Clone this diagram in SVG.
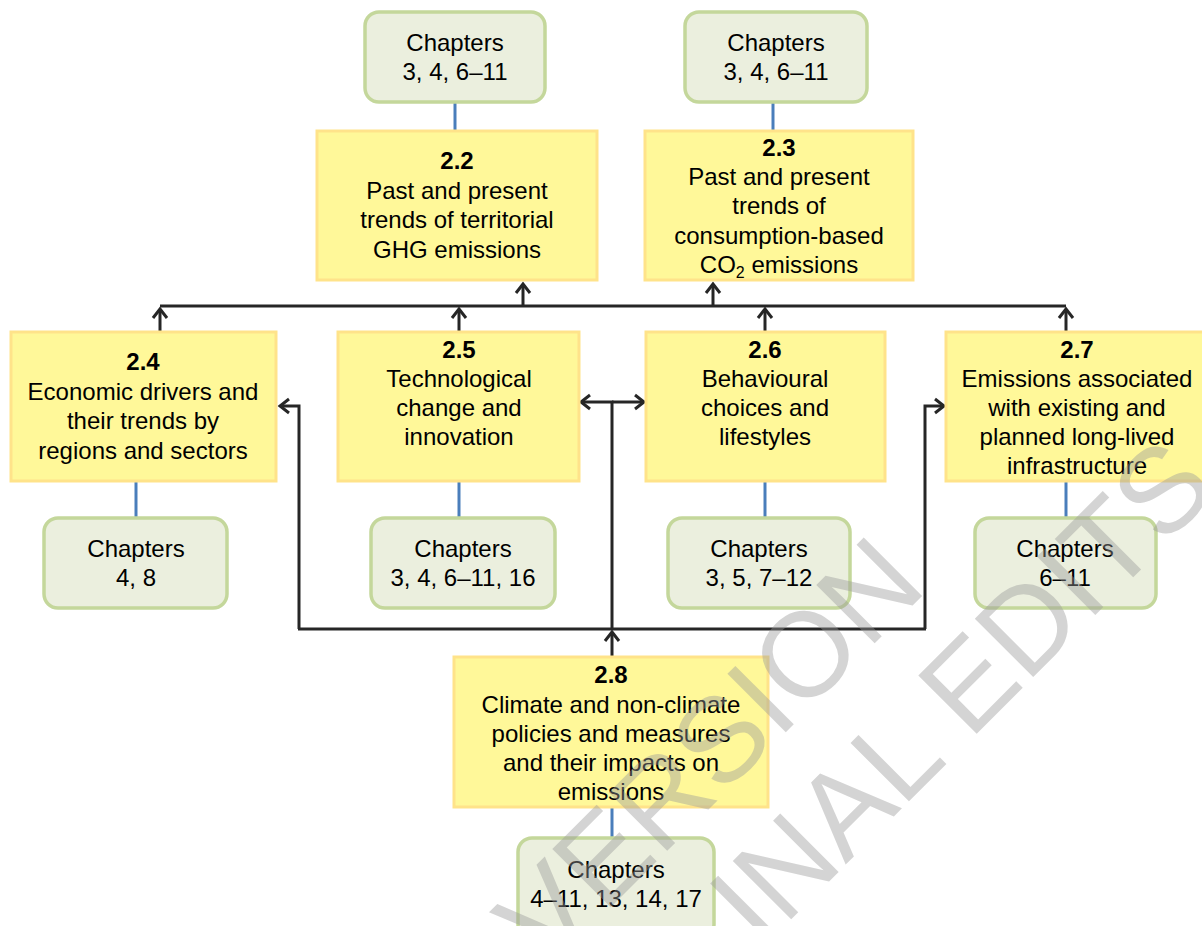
<svg xmlns="http://www.w3.org/2000/svg" width="1202" height="926" viewBox="0 0 1202 926">
<defs>
<style>
.y{fill:#FFF899;stroke:#FFE38A;stroke-width:3}
.g{fill:#EBEFDE;stroke:#C4D79B;stroke-width:3.5}
.t{font-family:"Liberation Sans",Arial,sans-serif;font-size:24px;fill:#000;text-anchor:middle}
.b{font-weight:bold}
.blue{stroke:#4A7EBB;stroke-width:3;fill:none}
.k{stroke:#262626;stroke-width:3;fill:none}
.wm{font-family:"Liberation Sans",Arial,sans-serif;font-size:120px;fill:#9a9a9a;opacity:0.42}
</style>
<marker id="ah" markerUnits="userSpaceOnUse" markerWidth="20" markerHeight="20" refX="0" refY="0" orient="auto" overflow="visible">
<path d="M-9,-7 L0,0 L-9,7" fill="none" stroke="#262626" stroke-width="3"/>
</marker>
</defs>
<rect width="1202" height="926" fill="#fff"/>

<g id="connectors">
<g class="blue">
<path d="M455,102 V131"/>
<path d="M773,102 V131"/>
<path d="M136,481 V518"/>
<path d="M459,481 V518"/>
<path d="M765,481 V518"/>
<path d="M1066,481 V518"/>
<path d="M612,807 V838"/>
</g>
<g class="k">
<path d="M160,306 H1066"/>
<path d="M523,306 V284" marker-end="url(#ah)"/>
<path d="M713,306 V284" marker-end="url(#ah)"/>
<path d="M160,332 V309" marker-end="url(#ah)"/>
<path d="M459,332 V309" marker-end="url(#ah)"/>
<path d="M765,332 V309" marker-end="url(#ah)"/>
<path d="M1066,332 V309" marker-end="url(#ah)"/>
<path d="M298,629 H926"/>
<path d="M299,629 V406 H280" marker-end="url(#ah)"/>
<path d="M612,629 V402 H581" marker-end="url(#ah)"/>
<path d="M612,402 H644" marker-end="url(#ah)"/>
<path d="M925,629 V406 H944" marker-end="url(#ah)"/>
<path d="M612,657 V632" marker-end="url(#ah)"/>
</g>
</g>

<g id="ch-22">
<rect class="g" x="365" y="12" width="180" height="90" rx="14"/>
<text class="t" x="455" y="51">Chapters</text>
<text class="t" x="455" y="80">3, 4, 6–11</text>
</g>
<g id="ch-23">
<rect class="g" x="685" y="12" width="182" height="90" rx="14"/>
<text class="t" x="776" y="51">Chapters</text>
<text class="t" x="776" y="80">3, 4, 6–11</text>
</g>

<g id="s22">
<rect class="y" x="317" y="131" width="280" height="149"/>
<text class="t b" x="457" y="169">2.2</text>
<text class="t" x="457" y="199">Past and present</text>
<text class="t" x="457" y="228">trends of territorial</text>
<text class="t" x="457" y="258">GHG emissions</text>
</g>
<g id="s23">
<rect class="y" x="645" y="131" width="268" height="149"/>
<text class="t b" x="779" y="156">2.3</text>
<text class="t" x="779" y="185">Past and present</text>
<text class="t" x="779" y="214">trends of</text>
<text class="t" x="779" y="244">consumption-based</text>
<text class="t" x="779" y="273">CO<tspan font-size="16" dy="5">2</tspan><tspan dy="-5"> emissions</tspan></text>
</g>

<g id="s24">
<rect class="y" x="11" y="332" width="265" height="149"/>
<text class="t b" x="143" y="370">2.4</text>
<text class="t" x="143" y="400">Economic drivers and</text>
<text class="t" x="143" y="429">their trends by</text>
<text class="t" x="143" y="459">regions and sectors</text>
</g>
<g id="s25">
<rect class="y" x="338" y="332" width="241" height="149"/>
<text class="t b" x="459" y="358">2.5</text>
<text class="t" x="459" y="387">Technological</text>
<text class="t" x="459" y="416">change and</text>
<text class="t" x="459" y="445">innovation</text>
</g>
<g id="s26">
<rect class="y" x="646" y="332" width="239" height="149"/>
<text class="t b" x="765" y="358">2.6</text>
<text class="t" x="765" y="387">Behavioural</text>
<text class="t" x="765" y="416">choices and</text>
<text class="t" x="765" y="445">lifestyles</text>
</g>
<g id="s27">
<rect class="y" x="946" y="332" width="259" height="149"/>
<text class="t b" x="1077" y="358">2.7</text>
<text class="t" x="1077" y="387">Emissions associated</text>
<text class="t" x="1077" y="416">with existing and</text>
<text class="t" x="1077" y="445">planned long-lived</text>
<text class="t" x="1077" y="474">infrastructure</text>
</g>

<g id="ch-24">
<rect class="g" x="44" y="518" width="183" height="90" rx="14"/>
<text class="t" x="136" y="557">Chapters</text>
<text class="t" x="136" y="586">4, 8</text>
</g>
<g id="ch-25">
<rect class="g" x="371" y="518" width="184" height="90" rx="14"/>
<text class="t" x="463" y="557">Chapters</text>
<text class="t" x="463" y="586">3, 4, 6–11, 16</text>
</g>
<g id="ch-26">
<rect class="g" x="668" y="518" width="182" height="90" rx="14"/>
<text class="t" x="759" y="557">Chapters</text>
<text class="t" x="759" y="586">3, 5, 7–12</text>
</g>
<g id="ch-27">
<rect class="g" x="975" y="518" width="181" height="90" rx="14"/>
<text class="t" x="1065" y="557">Chapters</text>
<text class="t" x="1065" y="586">6–11</text>
</g>

<g id="s28">
<rect class="y" x="454" y="657" width="314" height="150"/>
<text class="t b" x="611" y="683">2.8</text>
<text class="t" x="611" y="713">Climate and non-climate</text>
<text class="t" x="611" y="742">policies and measures</text>
<text class="t" x="611" y="771">and their impacts on</text>
<text class="t" x="611" y="800">emissions</text>
</g>
<g id="ch-28">
<rect class="g" x="518" y="838" width="196" height="100" rx="14"/>
<text class="t" x="616" y="878">Chapters</text>
<text class="t" x="616" y="907">4–11, 13, 14, 17</text>
</g>

<g id="watermark" transform="translate(738,780) rotate(-45)">
<text class="wm" x="0" y="0" text-anchor="middle">VERSION</text>
<text class="wm" x="-104" y="136">INAL EDITS</text>
</g>
</svg>
